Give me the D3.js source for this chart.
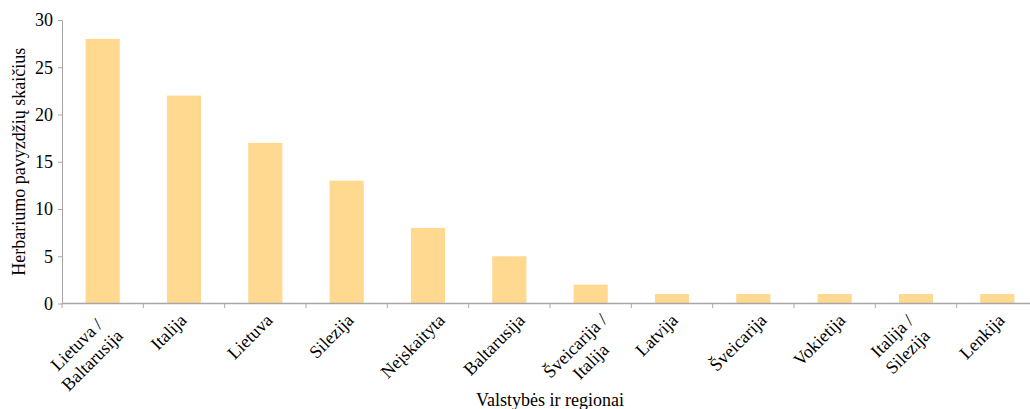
<!DOCTYPE html>
<html>
<head>
<meta charset="utf-8">
<script src="https://cdn.jsdelivr.net/npm/d3@7"></script>
<style>
    body { margin: 0; background: #fff; }
    svg text { font-family: "Liberation Serif", "Times New Roman", serif; fill: #000; }
</style>
</head>
<body>
<svg id="chart" width="1030" height="409"></svg>
<script>
// Data
const categories = [
    "Lietuva /\nBaltarusija", "Italija", "Lietuva", "Silezija", "Neįskaityta", "Baltarusija",
    "Šveicarija /\nItalija", "Latvija", "Šveicarija", "Vokietija", "Italija /\nSilezija", "Lenkija"
];
const counts = [28, 22, 17, 13, 8, 5, 2, 1, 1, 1, 1, 1];
const yTicks = [0, 5, 10, 15, 20, 25, 30];
const yTitle = "Herbariumo pavyzdžių skaičius";
const xTitle = "Valstybės ir regionai";

const svg = d3.select("#chart");
const axisColor = "#a6a6a6";
const barColor = "#ffd98f";
const fontSize = 18;

const x = d3.scaleBand().domain(categories).range([62, 1038]).paddingInner(0.58).paddingOuter(0.29);
const y = d3.scaleLinear().domain([0, 30]).range([303.5, 20]);

// --- bars ---
svg.append("g").selectAll("rect").data(categories).join("rect")
    .attr("x", c => x(c))
    .attr("width", x.bandwidth())
    .attr("y", (c, i) => y(counts[i]))
    .attr("height", (c, i) => y(0) - y(counts[i]))
    .attr("fill", barColor);

// --- y axis ---
const yAxis = svg.append("g").attr("transform", "translate(62,0)")
    .call(d3.axisLeft(y).tickValues(yTicks).tickSize(4).tickPadding(5).tickSizeOuter(0));
yAxis.select(".domain").attr("stroke", axisColor);
yAxis.selectAll(".tick line").attr("stroke", axisColor);
yAxis.selectAll(".tick text").attr("font-size", fontSize).attr("font-family", null);

// --- x axis (line + boundary ticks) ---
const gx = svg.append("g");
gx.append("line")
    .attr("x1", 62).attr("x2", x.range()[1])
    .attr("y1", y(0)).attr("y2", y(0))
    .attr("stroke", axisColor).attr("stroke-width", 1.6);
const bounds = categories.map(c => x(c) - x.step() * x.paddingInner() / 2);
gx.selectAll(".xt").data(bounds).join("line").attr("class", "xt")
    .attr("x1", d => d).attr("x2", d => d)
    .attr("y1", y(0)).attr("y2", y(0) + 4.5)
    .attr("stroke", axisColor);

// --- rotated category labels ---
// rotated block sits roughly centred under its band, top corner just below the axis
const lineH = 22, ascent = 16, k = Math.SQRT1_2 / 2;
categories.forEach(c => {
    const lines = c.split("\n");
    const cx = x(c) + x.bandwidth() / 2;
    const g = svg.append("g");
    const texts = lines.map((l, i) => g.append("text")
        .attr("font-size", fontSize)
        .attr("y", ascent + i * lineH)
        .text(l));
    const widths = texts.map(t => t.node().getComputedTextLength());
    const W = Math.max(...widths);
    texts.forEach(t => t.attr("text-anchor", "middle").attr("x", -W / 2));
    let tx;
    if (lines.length === 1) {
        tx = cx - 15 + k * (W - 21);
    } else {
        tx = cx - 20.6 + k * (W - 28) - 0.2 * (widths[1] - widths[0]);
    }
    g.attr("transform", `translate(${tx},310) rotate(-45)`);
});

// --- titles ---
svg.append("text")
    .attr("transform", `translate(25,${(y(0) + y(30)) / 2}) rotate(-90)`)
    .attr("text-anchor", "middle")
    .attr("font-size", fontSize)
    .text(yTitle);

svg.append("text")
    .attr("x", (62 + 1038) / 2).attr("y", 406)
    .attr("text-anchor", "middle")
    .attr("font-size", fontSize)
    .text(xTitle);
</script>
</body>
</html>
